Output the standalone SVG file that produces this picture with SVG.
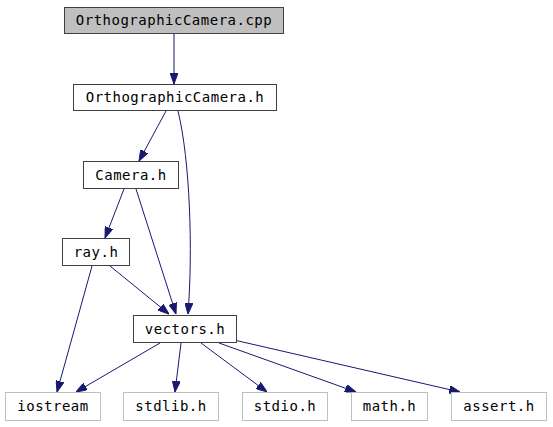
<svg xmlns="http://www.w3.org/2000/svg" width="553" height="427" viewBox="0 0 553 427">
<style>
  .bg { fill: #ffffff; }
  .n rect { stroke-width: 1; }
  .main rect { fill: #bfbfbf; stroke: #404040; }
  .dark rect { fill: #ffffff; stroke: #404040; }
  .light rect { fill: #ffffff; stroke: #bfbfbf; }
  .n text { font-family: "DejaVu Sans Mono", "Liberation Mono", monospace; font-size: 14px; letter-spacing: 0.5px; fill: #000000; text-anchor: middle; }
  .e path { fill: none; stroke: #191970; stroke-width: 1; marker-end: url(#ah); }
</style>
<defs>
  <marker id="ah" viewBox="0 0 11 8" refX="11" refY="4" markerWidth="11" markerHeight="8" markerUnits="userSpaceOnUse" orient="auto">
    <path d="M0,0 L11,4 L0,8 z" fill="#191970" stroke="#191970" stroke-width="1"/>
  </marker>
</defs>
<rect class="bg" x="0" y="0" width="553" height="427"/>
<g id="edges" class="e">
  <path d="M174,34 L174,84"/>
  <path d="M166,111 L139,161"/>
  <path d="M178,111 C190,160 193,250 188,314"/>
  <path d="M124,189 L105,238"/>
  <path d="M136,189 L176,314"/>
  <path d="M110,266 L169,314"/>
  <path d="M92,266 L57,392"/>
  <path d="M160,343 L76,392"/>
  <path d="M181,343 L175,392"/>
  <path d="M201,343 L267,392"/>
  <path d="M219,343 L356,392"/>
  <path d="M234,340 L460,392"/>
</g>
<g id="n_cpp" class="n main"><rect x="64.5" y="7.5" width="219" height="26"/><text x="174" y="25">OrthographicCamera.cpp</text></g>
<g id="n_och" class="n dark"><rect x="73.5" y="84.5" width="203" height="26"/><text x="175" y="102">OrthographicCamera.h</text></g>
<g id="n_camera" class="n dark"><rect x="83.5" y="161.5" width="95" height="27"/><text x="131" y="180">Camera.h</text></g>
<g id="n_ray" class="n dark"><rect x="62.5" y="238.5" width="67" height="27"/><text x="96" y="257">ray.h</text></g>
<g id="n_vectors" class="n dark"><rect x="133.5" y="315.5" width="103" height="27"/><text x="185" y="334">vectors.h</text></g>
<g id="n_iostream" class="n light"><rect x="5.5" y="392.5" width="95" height="28"/><text x="53" y="411">iostream</text></g>
<g id="n_stdlib" class="n light"><rect x="123.5" y="392.5" width="95" height="28"/><text x="171" y="411">stdlib.h</text></g>
<g id="n_stdio" class="n light"><rect x="242.5" y="392.5" width="85" height="28"/><text x="285" y="411">stdio.h</text></g>
<g id="n_math" class="n light"><rect x="351.5" y="392.5" width="76" height="28"/><text x="389.5" y="411">math.h</text></g>
<g id="n_assert" class="n light"><rect x="451.5" y="392.5" width="95" height="28"/><text x="499" y="411">assert.h</text></g>
</svg>
